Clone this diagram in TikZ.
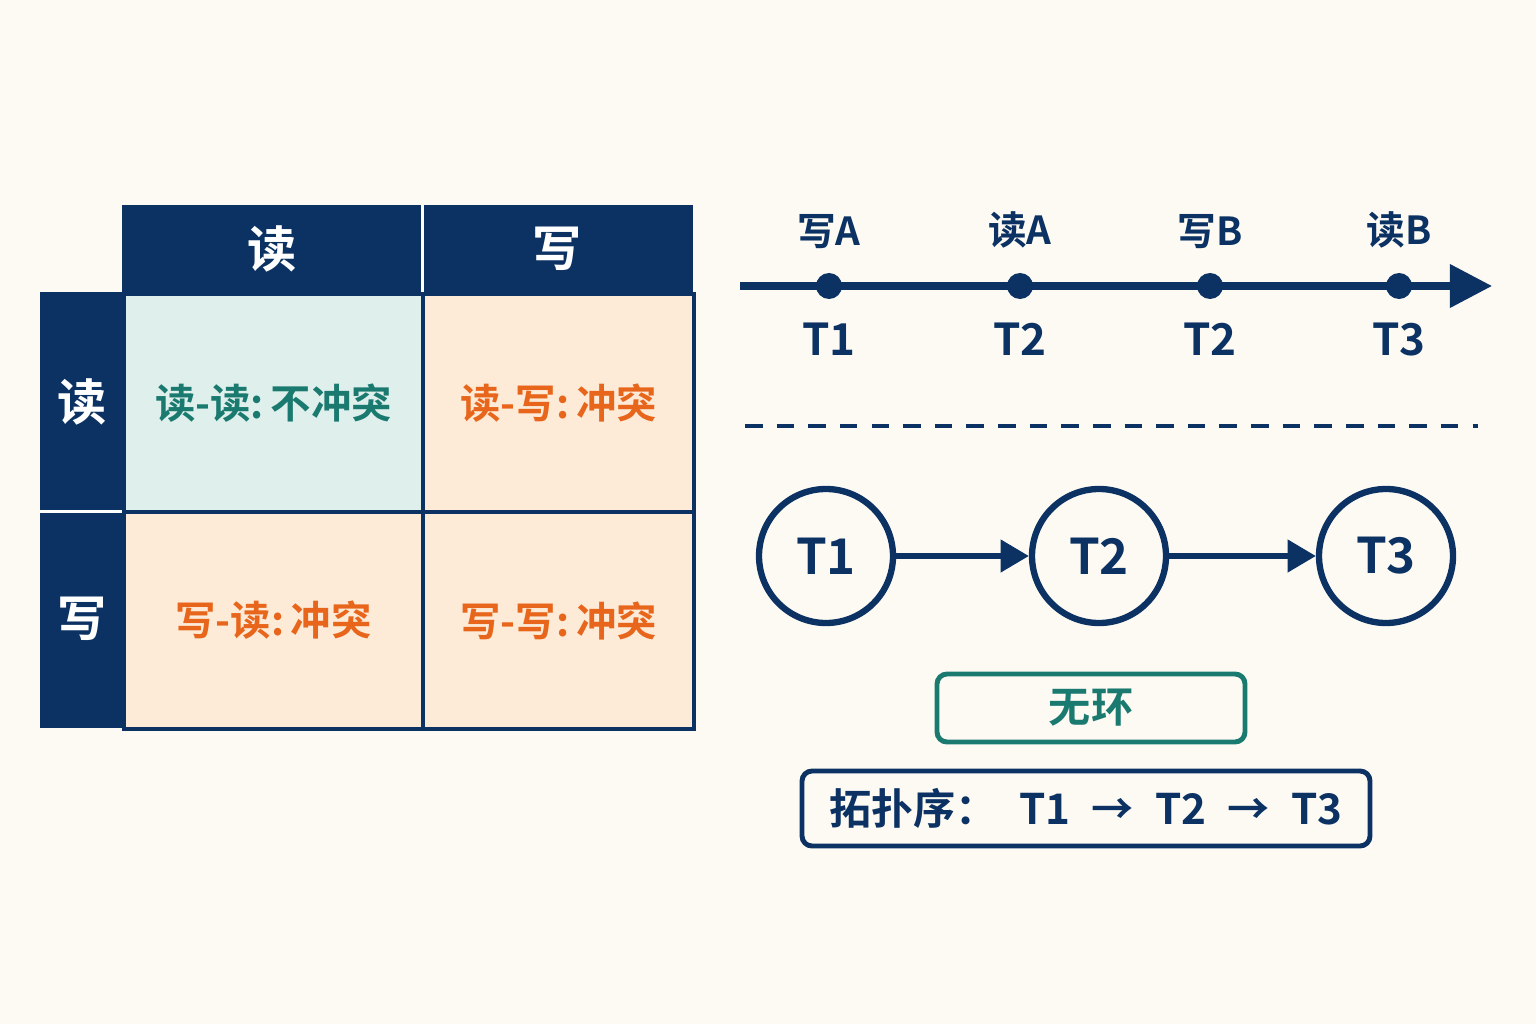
\documentclass[tikz,border=0pt]{standalone}
\usepackage{fontspec}
\setmainfont{Noto Sans CJK SC}[BoldFont={* Bold}]
\usetikzlibrary{positioning,arrows.meta}
\definecolor{colornavy}{HTML}{0B3262}
\definecolor{colorbg}{HTML}{FDFAF4}
\definecolor{colorok}{HTML}{DFF0EC}
\definecolor{colorbad}{HTML}{FDEBD8}
\definecolor{colorteal}{HTML}{1B7A70}
\definecolor{colororg}{HTML}{E8661C}
\tikzset{
  hdr/.style={fill=colornavy, draw=colornavy, text=white, inner sep=0pt, font=\bfseries\fontsize{14}{17}\selectfont},
  cell/.style={draw=colornavy, line width=1.2pt, inner sep=0pt, font=\bfseries\fontsize{11.5}{14}\selectfont},
  tlabel/.style={text=colornavy, font=\bfseries\fontsize{11}{13}\selectfont},
  txn/.style={circle, draw=colornavy, line width=1.8pt, minimum size=1.34cm, inner sep=0pt, text=colornavy, font=\bfseries\fontsize{14}{17}\selectfont},
  edgetxn/.style={colornavy, line width=1.5pt, -{Triangle[length=8pt,width=9pt]}},
  result/.style={draw, rounded corners=1mm, line width=1.4pt, inner sep=0pt, font=\bfseries\fontsize{12}{14}\selectfont}
}
\begin{document}
\begin{tikzpicture}
\fill[colorbg] (0,0) rectangle (15.36,10.24);
\useasboundingbox (0,0) rectangle (15.36,10.24);

% conflict table
\node[hdr, minimum width=2.99cm, minimum height=0.87cm, anchor=north west] (hr) at (1.22,8.19) {读};
\node[hdr, minimum width=2.71cm, minimum height=0.87cm, anchor=north west] (hw) at (4.21,8.19) {写};
\node[hdr, minimum width=0.82cm, minimum height=2.18cm, anchor=north west] (vr) at (0.40,7.32) {读};
\node[hdr, minimum width=0.82cm, minimum height=2.17cm, anchor=north west] (vw) at (0.40,5.14) {写};
\draw[white, line width=1pt] (hr.north east) -- (hr.south east);
\draw[white, line width=1pt] (vr.south west) -- (vr.south east);

\node[cell, fill=colorok, text=colorteal, minimum width=2.99cm, minimum height=2.18cm, anchor=north west] (rr) at (1.22,7.32) {读-读:\,不冲突};
\node[cell, fill=colorbad, text=colororg, minimum width=2.71cm, minimum height=2.18cm, anchor=north west] (rw) at (4.21,7.32) {读-写:\,冲突};
\node[cell, fill=colorbad, text=colororg, minimum width=2.99cm, minimum height=2.17cm, anchor=north west] (wr) at (1.22,5.14) {写-读:\,冲突};
\node[cell, fill=colorbad, text=colororg, minimum width=2.71cm, minimum height=2.17cm, anchor=north west] (ww) at (4.21,5.14) {写-写:\,冲突};

% timeline
\coordinate (ts) at (7.40,7.38);
\coordinate (te) at (14.92,7.38);
\draw[colornavy, line width=2pt, -{Triangle[length=12pt,width=12pt]}] (ts) -- (te);
\foreach \x/\op/\t [count=\i] in {8.29/写A/T1, 10.20/读A/T2, 12.10/写B/T2, 13.99/读B/T3}{
  \fill[colornavy] (\x,7.38) circle (0.13) coordinate (e\i);
  \node[tlabel, above=0.25cm of e\i] {\op};
  \node[tlabel, below=0.25cm of e\i, font=\bfseries\fontsize{12.5}{15}\selectfont] {\t};
}
\draw[colornavy, line width=1pt, dash pattern=on 5pt off 4pt] (7.45,5.98) -- (14.78,5.98);

% precedence graph
\node[txn] (t1) at (8.26,4.68) {T1};
\node[txn] (t2) at (10.99,4.68) {T2};
\node[txn] (t3) at (13.86,4.68) {T3};
\draw[edgetxn] (t1) -- (t2);
\draw[edgetxn] (t2) -- (t3);

\node[result, draw=colorteal, text=colorteal, minimum width=3.08cm, minimum height=0.68cm] (acyc) at (10.91,3.16) {无环};
\node[result, draw=colornavy, text=colornavy, minimum width=5.68cm, minimum height=0.75cm] (topo) at (10.86,2.155)
  {拓扑序：\; T1 \;\textbf{→}\; T2 \;\textbf{→}\; T3};
\end{tikzpicture}
\end{document}
